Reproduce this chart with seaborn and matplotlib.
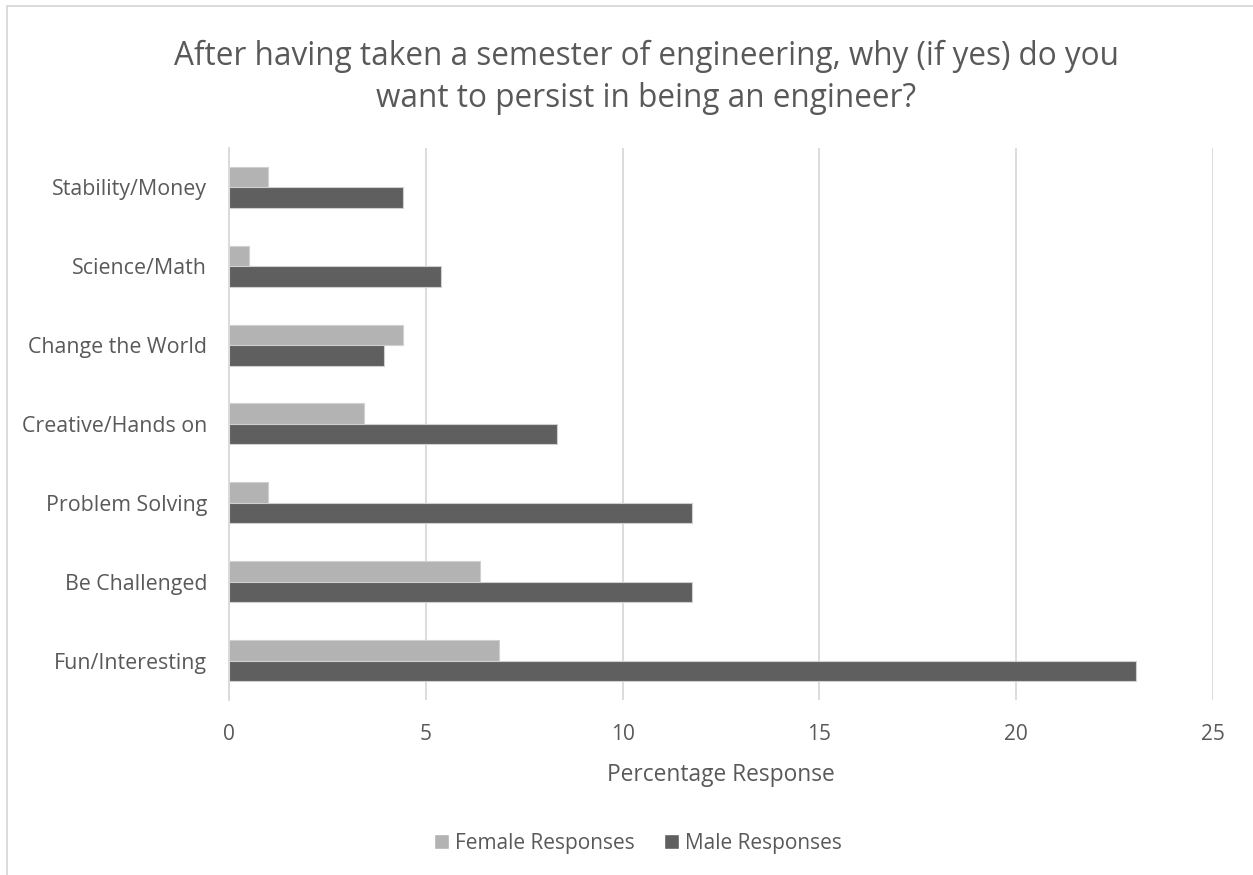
import matplotlib
matplotlib.use("Agg")
import matplotlib.pyplot as plt
import seaborn as sns
import pandas as pd
from matplotlib.patches import Patch
from matplotlib.lines import Line2D

# ===== DATA =====
categories = ["Stability/Money", "Science/Math", "Change the World",
              "Creative/Hands on", "Problem Solving", "Be Challenged",
              "Fun/Interesting"]
female_pct = [0.98, 0.49, 4.41, 3.43, 0.98, 6.37, 6.86]
male_pct = [4.41, 5.39, 3.92, 8.33, 11.76, 11.76, 23.04]
series_names = ["Female Responses", "Male Responses"]
x_ticks = [0, 5, 10, 15, 20, 25]

df = pd.DataFrame({
    "Reason": categories * 2,
    "Percent": female_pct + male_pct,
    "Group": [series_names[0]] * len(categories) + [series_names[1]] * len(categories),
})

sns.set_style("white")
plt.rcParams["font.family"] = ["Open Sans", "DejaVu Sans"]
TXT = "#595959"

fig = plt.figure(figsize=(12.53, 8.75), dpi=100)
ax = fig.add_axes([0.183, 0.2, 0.785, 0.631])

sns.barplot(
    data=df, x="Percent", y="Reason", hue="Group", order=categories,
    hue_order=series_names, palette=["#b3b3b3", "#5f5f5f"],
    orient="h", width=0.52, gap=0, edgecolor="#d0d0d0", linewidth=0.8,
    legend=False, ax=ax
)

ax.set_xlim(0, 25)
ax.set_ylim(6.5, -0.5)
ax.set_xticks(x_ticks)
ax.grid(axis="x", color="#d9d9d9", linewidth=1.3)
ax.set_axisbelow(True)
for s in ["top", "right", "bottom"]:
    ax.spines[s].set_visible(False)
ax.spines["left"].set_color("#d9d9d9")
ax.spines["left"].set_linewidth(1.3)
ax.tick_params(axis="both", length=0, labelsize=15.4, colors=TXT, pad=16)
ax.tick_params(axis="x", labelsize=15, pad=17)
ax.set_ylabel("")
ax.set_xlabel("Percentage Response", fontsize=16.4, color=TXT, labelpad=13)

# title (chart frame is cropped on the right, so centre sits a bit right of middle)
fig.text(0.516, 0.912, "After having taken a semester of engineering, why (if yes) do you\nwant to persist in being an engineer?",
         ha="center", va="center", fontsize=22.7, color=TXT, linespacing=1.36)

handles = [Patch(facecolor="#b3b3b3"), Patch(facecolor="#5f5f5f")]
fig.legend(handles, series_names, loc="center", bbox_to_anchor=(0.509, 0.036),
           ncol=2, frameon=False, fontsize=15, labelcolor=TXT,
           handlelength=0.72, handleheight=0.72, handletextpad=0.3, columnspacing=1.4)

# chart frame: only left and top edges are visible in the crop
x0 = 6.5 / 1253
y0 = 1 - 5.5 / 875
fig.add_artist(Line2D([x0, x0], [0, y0], transform=fig.transFigure, color="#d9d9d9", lw=1.3))
fig.add_artist(Line2D([x0, 1], [y0, y0], transform=fig.transFigure, color="#d9d9d9", lw=1.3))

fig.savefig("out.png", dpi=100)
